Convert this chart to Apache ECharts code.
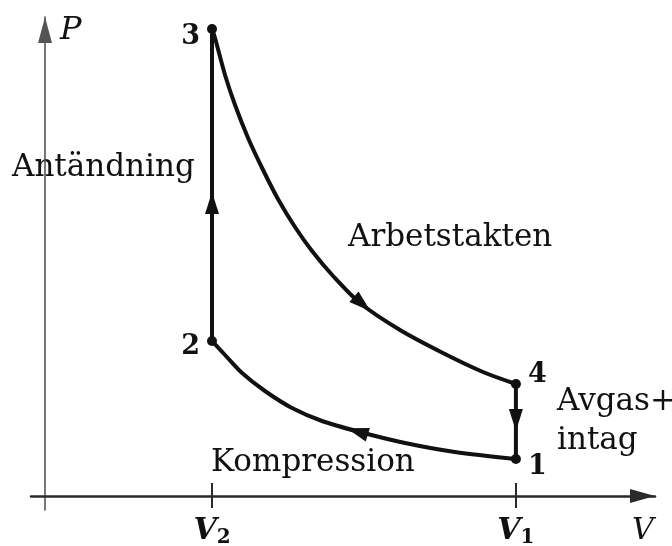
<!DOCTYPE html>
<html>
<head>
<meta charset="utf-8">
<title>Otto-cykel</title>
<script src="https://cdn.jsdelivr.net/npm/echarts@6/dist/echarts.min.js"></script>
<style>
  html, body { margin: 0; padding: 0; background: #fff; }
  #chart { width: 672px; height: 546px; }
</style>
</head>
<body>
<div id="chart"></div>
<script>
// volym (V) och tryck (P) i godtyckliga enheter
const cornerNames = ['1', '2', '3', '4']
const cornerV = [28.2, 10, 10, 28.2]
const cornerP = [3.7, 15.5, 46.7, 11.2]

// arbetstakten 3 -> 4
const expansionV = [10, 10.18, 10.78, 11.38, 12.16, 13.0, 13.95, 14.97, 15.99, 17.25, 18.86, 21.26, 23.83, 26.23, 28.2]
const expansionP = [46.7, 45.8, 42.1, 39.1, 35.8, 32.8, 29.7, 26.9, 24.5, 22.0, 19.3, 16.6, 14.3, 12.4, 11.2]

// kompression 1 -> 2
const compressionV = [28.2, 24.55, 21.56, 18.74, 16.59, 14.79, 13.17, 11.8, 10.78, 10]
const compressionP = [3.7, 4.4, 5.3, 6.45, 7.5, 8.8, 10.5, 12.3, 14.1, 15.5]

// riktningspilar längs kurvorna
const arrowV = [10, 19.0, 28.2, 18.7]
const arrowP = [29.3, 19.2, 7.6, 6.45]

const tickValues = [10, 28.2]
const tickNames = ['2', '1']

const serif = 'DejaVu Serif'
const ink = '#111'

const pair = (xs, ys) => xs.map((x, i) => [x, ys[i]])
const corner = name => [cornerV[cornerNames.indexOf(name)], cornerP[cornerNames.indexOf(name)]]

// var siffrorna vid hörnen hamnar
const cornerLabel = {
  '1': { position: 'right', offset: [2, 8] },
  '2': { position: 'left', offset: [-2, 6] },
  '3': { position: 'left', offset: [-2, 8] },
  '4': { position: 'right', offset: [2, -9] }
}
// pilarnas vridning (grader, moturs)
const arrowRotate = [0, -131, 180, 73]

const chart = echarts.init(document.getElementById('chart'))

const pathLine = (data, smooth) => ({
  type: 'line',
  data: data,
  smooth: smooth,
  showSymbol: false,
  silent: true,
  lineStyle: { color: ink, width: 4 },
  z: 3
})

const textFont = '31px "DejaVu Serif"'
const note = (text, x, y) => ({
  type: 'text', x: x, y: y,
  style: { text: text, font: textFont, fill: ink, verticalAlign: 'middle' }
})

chart.setOption({
  animation: false,
  backgroundColor: '#fff',
  grid: { left: 31, right: 17, top: 17, bottom: 36, outerBoundsMode: 'none' },
  xAxis: {
    type: 'value',
    min: -0.84,
    max: 36.53,
    splitLine: { show: false },
    axisTick: { show: false },
    axisLine: {
      onZero: true,
      lineStyle: { color: '#2a2a2a', width: 2.5 },
      symbol: ['none', 'triangle'],
      symbolSize: [14, 25],
      symbolOffset: [0, -12.5]
    },
    axisLabel: {
      customValues: tickValues,
      margin: 4,
      formatter: v => '{v|V}{s|' + tickNames[tickValues.indexOf(v)] + '}',
      rich: {
        v: { fontFamily: serif, fontStyle: 'italic', fontWeight: 'bold', fontSize: 30, color: ink },
        s: { fontFamily: serif, fontWeight: 'bold', fontSize: 20, color: ink, padding: [14, 0, 0, 0] }
      }
    },
    name: 'V',
    nameLocation: 'end',
    nameGap: -23,
    nameTextStyle: {
      fontFamily: serif, fontStyle: 'italic', fontSize: 30, color: ink,
      verticalAlign: 'top', padding: [20, 0, 0, 0]
    }
  },
  yAxis: {
    type: 'value',
    min: -1.4,
    max: 47.9,
    splitLine: { show: false },
    axisTick: { show: false },
    axisLabel: { show: false },
    axisLine: {
      onZero: true,
      lineStyle: { color: '#555', width: 1.6 },
      symbol: ['none', 'triangle'],
      symbolSize: [14, 26],
      symbolOffset: [0, -13]
    },
    name: 'P',
    nameLocation: 'end',
    nameGap: 2,
    nameTextStyle: {
      fontFamily: serif, fontStyle: 'italic', fontSize: 32, color: ink,
      align: 'left', verticalAlign: 'top', padding: [0, 0, 0, 15]
    }
  },
  series: [
    pathLine(pair(expansionV, expansionP), 0.3),
    pathLine(pair(compressionV, compressionP), 0.3),
    pathLine([corner('2'), corner('3')], false),
    pathLine([corner('4'), corner('1')], false),
    {
      // markeringar på V-axeln
      type: 'line',
      data: [],
      silent: true,
      markLine: {
        silent: true,
        symbol: 'none',
        label: { show: false },
        lineStyle: { color: '#2a2a2a', width: 2, type: 'solid' },
        data: tickValues.map(v => [{ coord: [v, -1.2] }, { coord: [v, 1.3] }])
      }
    },
    {
      type: 'scatter',
      silent: true,
      symbol: 'triangle',
      symbolSize: [14, 22],
      itemStyle: { color: ink, opacity: 1 },
      z: 5,
      data: arrowV.map((v, i) => ({ value: [v, arrowP[i]], symbolRotate: arrowRotate[i] }))
    },
    {
      type: 'scatter',
      silent: true,
      symbol: 'circle',
      symbolSize: 10,
      itemStyle: { color: ink, opacity: 1 },
      z: 6,
      data: cornerNames.map((n, i) => ({
        name: n,
        value: [cornerV[i], cornerP[i]],
        label: Object.assign({
          show: true,
          formatter: n,
          fontFamily: serif,
          fontWeight: 'bold',
          fontSize: 27,
          color: ink,
          opacity: 1
        }, cornerLabel[n])
      }))
    }
  ],
  graphic: [
    note('Antändning', 12, 168),
    note('Arbetstakten', 348, 238),
    note('Kompression', 211, 463),
    note('Avgas+', 557, 402),
    note('intag', 557, 441)
  ]
})
</script>
</body>
</html>
